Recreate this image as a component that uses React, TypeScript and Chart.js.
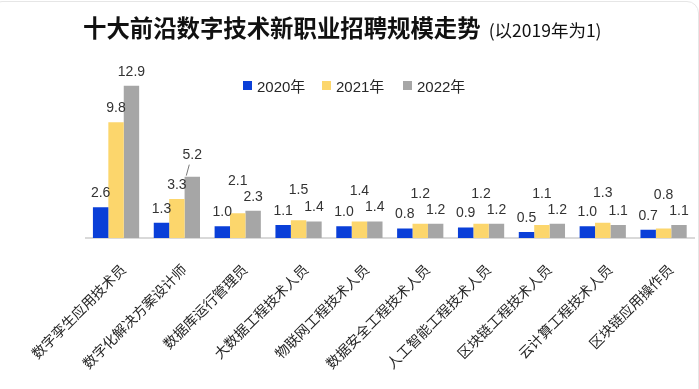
import React, { useEffect, useRef } from "react";
import { Chart, registerables } from "chart.js";

Chart.register(...registerables);

const categories = [
  "数字孪生应用技术员",
  "数字化解决方案设计师",
  "数据库运行管理员",
  "大数据工程技术人员",
  "物联网工程技术人员",
  "数据安全工程技术人员",
  "人工智能工程技术人员",
  "区块链工程技术人员",
  "云计算工程技术人员",
  "区块链应用操作员",
];
const seriesNames = ["2020年", "2021年", "2022年"];
const values2020 = [2.6, 1.3, 1.0, 1.1, 1.0, 0.8, 0.9, 0.5, 1.0, 0.7];
const values2021 = [9.8, 3.3, 2.1, 1.5, 1.4, 1.2, 1.2, 1.1, 1.3, 0.8];
const values2022 = [12.9, 5.2, 2.3, 1.4, 1.4, 1.2, 1.2, 1.2, 1.1, 1.1];
const seriesValues = [values2020, values2021, values2022];
const seriesColors = ["#0a3fd8", "#fcd66c", "#a6a6a6"];

const titleMain = "十大前沿数字技术新职业招聘规模走势";
const titleSub = "(以2019年为1)";

const valueLabels = {
  id: "valueLabels",
  afterDatasetsDraw(chart: any) {
    const ctx = chart.ctx;
    const metas = [0, 1, 2].map((i) => chart.getDatasetMeta(i));
    ctx.save();
    ctx.font = '14px "Liberation Sans", Arial, sans-serif';
    ctx.fillStyle = "#333333";
    ctx.textAlign = "center";
    ctx.textBaseline = "middle";
    for (let i = 0; i < categories.length; i++) {
      const bars = metas.map((m: any) => m.data[i]);
      const ys = bars.map((b: any) => b.y - 14);
      let leader = false;
      if (Math.abs(ys[1] - ys[0]) < 16 || Math.abs(ys[1] - ys[2]) < 16) {
        ys[1] = Math.min(ys[0], ys[1], ys[2]) - 16;
      } else if (ys[2] - ys[1] > -24 && ys[2] < ys[1]) {
        ys[2] -= 7;
        leader = true;
      }
      bars.forEach((b: any, k: number) => {
        ctx.fillText(seriesValues[k][i].toFixed(1), b.x, ys[k]);
      });
      if (leader) {
        const b = bars[2];
        ctx.strokeStyle = "#777";
        ctx.lineWidth = 1;
        ctx.beginPath();
        ctx.moveTo(b.x - 6, b.y - 1);
        ctx.lineTo(b.x - 3, ys[2] + 9);
        ctx.stroke();
      }
    }
    ctx.restore();
  },
};

export default function App() {
  const canvasRef = useRef<HTMLCanvasElement | null>(null);

  useEffect(() => {
    document.body.style.margin = "0";
    const canvas = canvasRef.current;
    if (!canvas) return;
    const chart = new Chart(canvas, {
      type: "bar",
      data: {
        labels: categories,
        datasets: seriesNames.map((name, k) => ({
          label: name,
          data: seriesValues[k],
          backgroundColor: seriesColors[k],
          borderWidth: 0,
          barPercentage: 1,
          categoryPercentage: 0.76,
        })),
      },
      options: {
        animation: false,
        responsive: false,
        maintainAspectRatio: false,
        layout: { padding: { left: 79, right: 5, top: 61, bottom: 0 } },
        plugins: {
          legend: { display: false },
          title: { display: false },
          tooltip: { enabled: false },
        },
        scales: {
          x: {
            afterFit: (scale: any) => {
              scale.height = 151;
            },
            grid: { display: false, drawTicks: false },
            border: { display: true, color: "#d9d9d9", width: 2 },
            ticks: {
              autoSkip: false,
              maxRotation: 45,
              minRotation: 45,
              padding: 23,
              labelOffset: 7,
              color: "#262626",
              font: { family: '"Noto Sans CJK SC", sans-serif', size: 14 },
            },
          },
          y: {
            display: false,
            min: 0,
            max: 15,
          },
        },
      },
      plugins: [valueLabels],
    });
    return () => chart.destroy();
  }, []);

  const legendLeft = [243, 322, 403];

  return (
    <div
      style={{
        position: "relative",
        width: 699,
        height: 389,
        background: "#fff",
        overflow: "hidden",
        fontFamily: '"Liberation Sans", Arial, "Noto Sans CJK SC", sans-serif',
      }}
    >
      <div
        style={{
          position: "absolute",
          left: -10,
          top: 1,
          width: 707,
          height: 420,
          border: "1px solid #e6e6e6",
          borderRadius: 12,
          pointerEvents: "none",
        }}
      />
      <canvas
        ref={canvasRef}
        width={699}
        height={389}
        style={{ position: "absolute", left: 0, top: 0, width: 699, height: 389 }}
      />
      <div
        style={{
          position: "absolute",
          left: 83,
          top: 10,
          whiteSpace: "nowrap",
          color: "#111",
          lineHeight: "34px",
        }}
      >
        <span style={{ fontFamily: '"Noto Sans CJK SC", sans-serif', fontWeight: 700, fontSize: 23.4 }}>
          {titleMain}
        </span>
        <span style={{ fontFamily: '"Noto Sans CJK SC", sans-serif', fontSize: 17.5, marginLeft: 8 }}>
          {titleSub}
        </span>
      </div>
      {seriesNames.map((name, k) => (
        <div
          key={name}
          style={{
            position: "absolute",
            left: legendLeft[k],
            top: 75,
            height: 20,
            display: "flex",
            alignItems: "center",
            whiteSpace: "nowrap",
            fontSize: 15,
            color: "#262626",
          }}
        >
          <span style={{ display: "inline-block", width: 9, height: 9, background: seriesColors[k], marginRight: 5 }} />
          <span>{name}</span>
        </div>
      ))}
    </div>
  );
}
